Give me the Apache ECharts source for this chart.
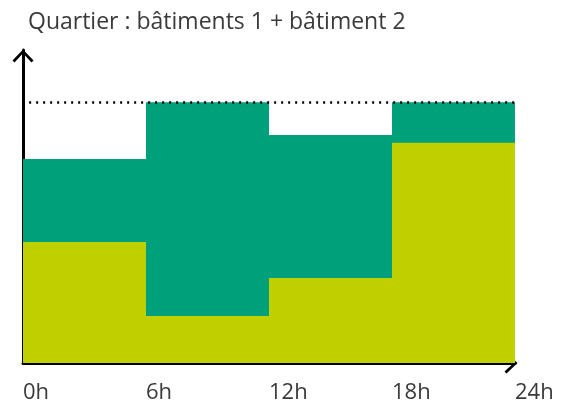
<!DOCTYPE html>
<html>
<head>
<meta charset="utf-8">
<script src="https://cdn.jsdelivr.net/npm/echarts@6/dist/echarts.min.js"></script>
<style>
html,body{margin:0;padding:0;background:#fff;}
#chart{width:562px;height:407px;}
</style>
</head>
<body>
<div id="chart"></div>
<script>
// Data (hours of day; step areas hold each value for 6h)
const hours = [0, 6, 12, 18, 24];
const hourLabels = ['0h', '6h', '12h', '18h', '24h'];
const batiment1 = [46.4, 18.0, 32.6, 84.4];   // bottom layer (yellow-green)
const batiment2 = [31.8, 82.0, 54.8, 15.6];   // top layer (teal green)
const capacity = 100;                          // dotted line level
const titleText = 'Quartier : bâtiments 1 + bâtiment 2';

// cumulative top of the stack (bâtiment 1 + bâtiment 2)
const total = batiment1.map((v, i) => v + batiment2[i]);

function stepData(vals) {
  const d = hours.slice(0, vals.length).map((h, i) => [h, vals[i]]);
  d.push([hours[hours.length - 1], vals[vals.length - 1]]);
  return d;
}

const chevron = 'path://M10.5,0 L21,11 L19,13 L10.5,3.8 L2,13 L0,11 Z';
const font = '"Open Sans", Lato, sans-serif';

const chart = echarts.init(document.getElementById('chart'));
chart.setOption({
  animation: false,
  backgroundColor: '#ffffff',
  title: {
    text: titleText,
    left: 23, top: 6,
    textStyle: { fontFamily: font, fontSize: 23, fontWeight: 'normal', color: '#3a3a3a' }
  },
  grid: { left: 23, right: 47, top: 50, bottom: 44, containLabel: false },
  xAxis: {
    type: 'value', min: 0, max: 24, interval: 6,
    axisLine: { show: true, lineStyle: { color: '#000', width: 3 },
      symbol: ['none', chevron], symbolSize: [21, 13], symbolOffset: [0, -4] },
    axisTick: { show: false },
    splitLine: { show: false },
    axisLabel: {
      formatter: v => hourLabels[hours.indexOf(v)],
      align: 'left', margin: 19,
      fontFamily: font, fontSize: 22, color: '#3a3a3a'
    }
  },
  yAxis: {
    type: 'value', min: 0, max: 120,
    axisLine: { show: true, lineStyle: { color: '#000', width: 3 },
      symbol: ['none', chevron], symbolSize: [21, 13], symbolOffset: [0, -6] },
    axisTick: { show: false },
    axisLabel: { show: false },
    splitLine: { show: false }
  },
  series: [
    {
      name: 'bâtiment 1 + bâtiment 2', type: 'line', step: 'end',
      data: stepData(total), showSymbol: false,
      lineStyle: { width: 0 }, areaStyle: { color: '#00a07a', opacity: 1 },
      z: 1,
      markLine: {
        silent: true, symbol: ['none', 'none'], label: { show: false },
        lineStyle: { color: '#000', type: [2, 5], width: 2.5 },
        data: [[{ coord: [0.3, capacity] }, { coord: [24, capacity] }]]
      }
    },
    {
      name: 'bâtiment 1', type: 'line', step: 'end',
      data: stepData(batiment1), showSymbol: false,
      lineStyle: { width: 0 }, areaStyle: { color: '#bfcf00', opacity: 1 },
      z: 2
    }
  ]
});
</script>
</body>
</html>
